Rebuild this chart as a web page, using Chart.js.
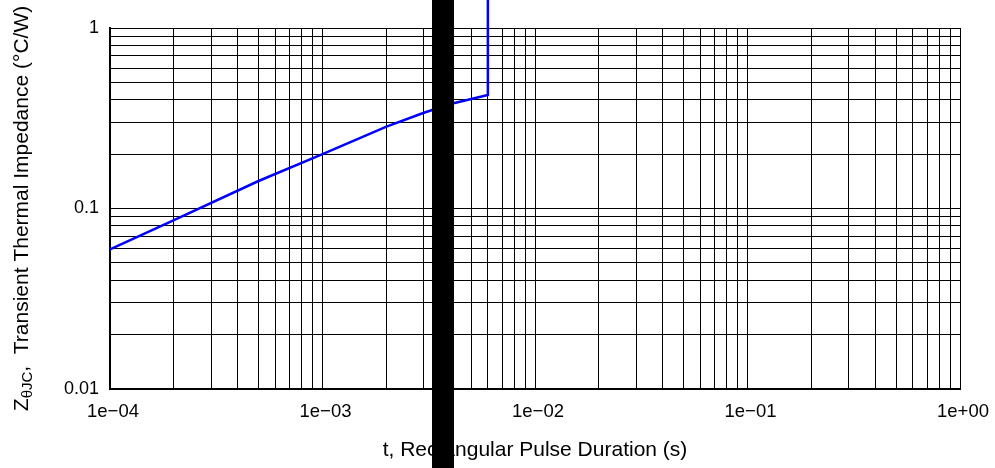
<!DOCTYPE html>
<html>
<head>
<meta charset="utf-8">
<script src="https://cdn.jsdelivr.net/npm/chart.js@4"></script>
<style>
  html, body { margin: 0; padding: 0; background: #fff; }
  #wrap { width: 995px; height: 468px; position: relative; }
</style>
</head>
<body>
<div id="wrap"><canvas id="c" width="995" height="468"></canvas></div>
<script>
// ---- data ----
const pulseTimes = [1e-4, 2e-4, 5e-4, 1e-3, 2e-3, 3e-3, 4e-3, 6e-3, 6e-3];
const zthValues  = [0.0594, 0.0863, 0.142, 0.200, 0.284, 0.339, 0.379, 0.425, 10];
const xDecades = [1e-4, 1e-3, 1e-2, 1e-1, 1];
const xDecadeLabels = ['1e\u221204', '1e\u221203', '1e\u221202', '1e\u221201', '1e+00'];
const yDecades = [0.01, 0.1, 1];
const yDecadeLabels = ['0.01', '0.1', '1'];
const xTitle = 't, Rectangular Pulse Duration (s)';
const yTitleMain = 'Z';
const yTitleSub = '\u03b8JC';
const yTitleRest = ',  Transient Thermal Impedance (\u00b0C/W)';

function logTicks(decades) {
  const out = [];
  for (let i = 0; i < decades.length; i++) {
    const d = decades[i];
    if (i === decades.length - 1) { out.push(d); break; }
    for (let m = 1; m <= 9; m++) out.push(+(m * d).toPrecision(6));
  }
  return out;
}
const xTickValues = logTicks(xDecades);
const yTickValues = logTicks(yDecades);

function labelFor(v, decades, labels) {
  for (let i = 0; i < decades.length; i++) {
    if (Math.abs(v / decades[i] - 1) < 1e-6) return labels[i];
  }
  return '';
}

const FONT = '"Liberation Sans", Arial, Helvetica, sans-serif';

const overlay = {
  id: 'overlay',
  afterDraw(chart) {
    const ctx = chart.ctx;
    const ca = chart.chartArea;
    ctx.save();
    ctx.fillStyle = '#000';
    // x title
    ctx.font = '21px ' + FONT;
    ctx.textAlign = 'center';
    ctx.textBaseline = 'middle';
    ctx.fillText(xTitle, (ca.left + ca.right) / 2, 450);
    // y title (rotated, with subscript)
    ctx.translate(20, (ca.top + ca.bottom) / 2);
    ctx.rotate(-Math.PI / 2);
    const mainF = '21px ' + FONT, subF = '15px ' + FONT;
    ctx.font = mainF; const w1 = ctx.measureText(yTitleMain).width;
    const w3 = ctx.measureText(yTitleRest).width;
    ctx.font = subF; const w2 = ctx.measureText(yTitleSub).width;
    let x = -(w1 + w2 + w3) / 2;
    ctx.textAlign = 'left';
    ctx.textBaseline = 'alphabetic';
    ctx.font = mainF; ctx.fillText(yTitleMain, x, 8); x += w1;
    ctx.font = subF; ctx.fillText(yTitleSub, x, 12); x += w2;
    ctx.font = mainF; ctx.fillText(yTitleRest, x, 8);
    ctx.restore();
    // black occluding bar
    ctx.save();
    ctx.fillStyle = '#000';
    ctx.fillRect(432, 0, 22, chart.height);
    ctx.restore();
  }
};

new Chart(document.getElementById('c'), {
  type: 'line',
  data: {
    datasets: [{
      data: pulseTimes.map((t, i) => ({ x: t, y: zthValues[i] })),
      borderColor: '#0000ff',
      borderWidth: 2.5,
      pointRadius: 0,
      tension: 0,
      fill: false,
      clip: false
    }]
  },
  options: {
    responsive: false,
    animation: false,
    devicePixelRatio: 1,
    layout: { padding: { left: 0, top: 28, right: 35, bottom: 0 } },
    plugins: { legend: { display: false }, tooltip: { enabled: false } },
    scales: {
      x: {
        type: 'logarithmic',
        min: 1e-4, max: 1,
        afterBuildTicks(s) { s.ticks = xTickValues.map(v => ({ value: v })); },
        afterFit(s) { s.height = 79; s.paddingLeft = 0; s.paddingRight = 0; },
        grid: { color: '#000', lineWidth: 1, drawTicks: false },
        border: { display: true, color: '#000', width: 2 },
        ticks: {
          autoSkip: false, maxRotation: 0, padding: 12, labelOffset: 3,
          color: '#000', font: { family: FONT, size: 18.5 },
          callback: (v) => labelFor(v, xDecades, xDecadeLabels)
        }
      },
      y: {
        type: 'logarithmic',
        min: 0.01, max: 1,
        afterBuildTicks(s) { s.ticks = yTickValues.map(v => ({ value: v })); },
        afterFit(s) { s.width = 110; s.paddingTop = 0; s.paddingBottom = 0; },
        grid: { color: '#000', lineWidth: 1, drawTicks: false },
        border: { display: true, color: '#000', width: 2 },
        ticks: {
          autoSkip: false, padding: 11,
          color: '#000', font: { family: FONT, size: 18 },
          callback: (v) => labelFor(v, yDecades, yDecadeLabels)
        }
      }
    }
  },
  plugins: [overlay]
});
</script>
</body>
</html>
